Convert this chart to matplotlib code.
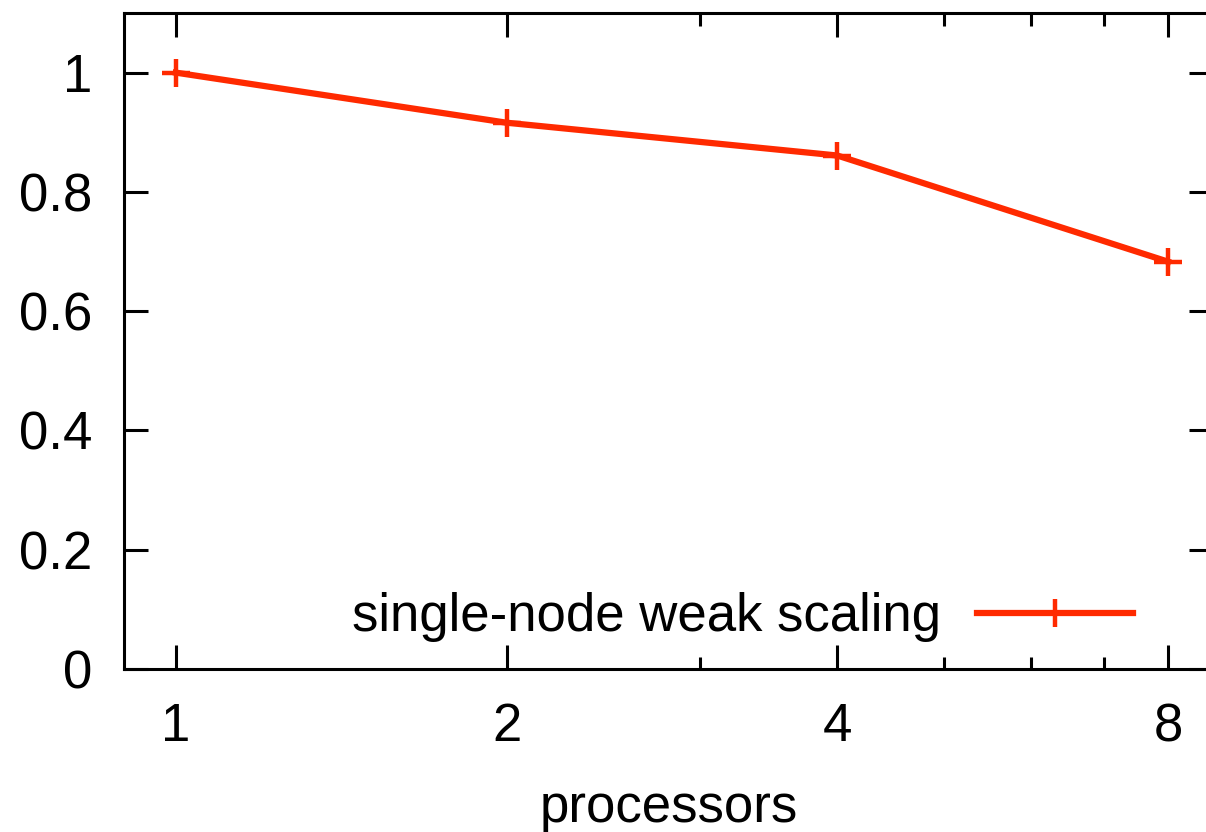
"""
Single-node weak scaling efficiency vs number of processors (gnuplot style).
"""

import matplotlib

matplotlib.use("Agg")
import matplotlib.pyplot as plt
from matplotlib.ticker import FixedLocator, NullFormatter

# data
processors = [1, 2, 4, 8]
efficiency = [1.0, 0.916, 0.861, 0.683]
x_ticks = [1, 2, 4, 8]
x_minor = [3, 5, 6, 7]
y_ticks = [0, 0.2, 0.4, 0.6, 0.8, 1]
y_labels = ["0", "0.2", "0.4", "0.6", "0.8", "1"]

plt.rcParams["font.family"] = ["Liberation Sans", "DejaVu Sans"]
plt.rcParams["font.size"] = 38

fig = plt.figure(figsize=(12.06, 8.32), dpi=100)
ax = fig.add_axes([0.1028, 0.1959, 0.903, 0.7885])

ax.plot(
    processors,
    efficiency,
    color="#ff2a00",
    linewidth=4.5,
    marker="+",
    markersize=20,
    markeredgewidth=3.2,
    label="single-node weak scaling",
)

ax.set_xscale("log", base=2)
ax.set_xlim(0.897, 8.79)
ax.set_ylim(0, 1.1)

ax.xaxis.set_major_locator(FixedLocator(x_ticks))
ax.xaxis.set_minor_locator(FixedLocator(x_minor))
ax.xaxis.set_minor_formatter(NullFormatter())
ax.set_xticklabels([str(v) for v in x_ticks])
ax.set_yticks(y_ticks)
ax.set_yticklabels(y_labels)
ax.yaxis.set_minor_locator(FixedLocator([]))

for s in ax.spines.values():
    s.set_linewidth(2.2)

ax.tick_params(which="both", direction="in", top=True, right=True, width=2.2)
ax.tick_params(which="major", length=17)
ax.tick_params(which="minor", length=9)
ax.tick_params(axis="x", which="major", pad=24)
ax.tick_params(axis="y", which="major", pad=23)

ax.set_xlabel("processors", labelpad=22)

ax.legend(
    loc="center right",
    bbox_to_anchor=(0.9265, 0.079),
    frameon=False,
    markerfirst=False,
    handlelength=2.95,
    handletextpad=0.68,
    borderpad=0,
    borderaxespad=0,
)

fig.savefig("out.png", dpi=100)
